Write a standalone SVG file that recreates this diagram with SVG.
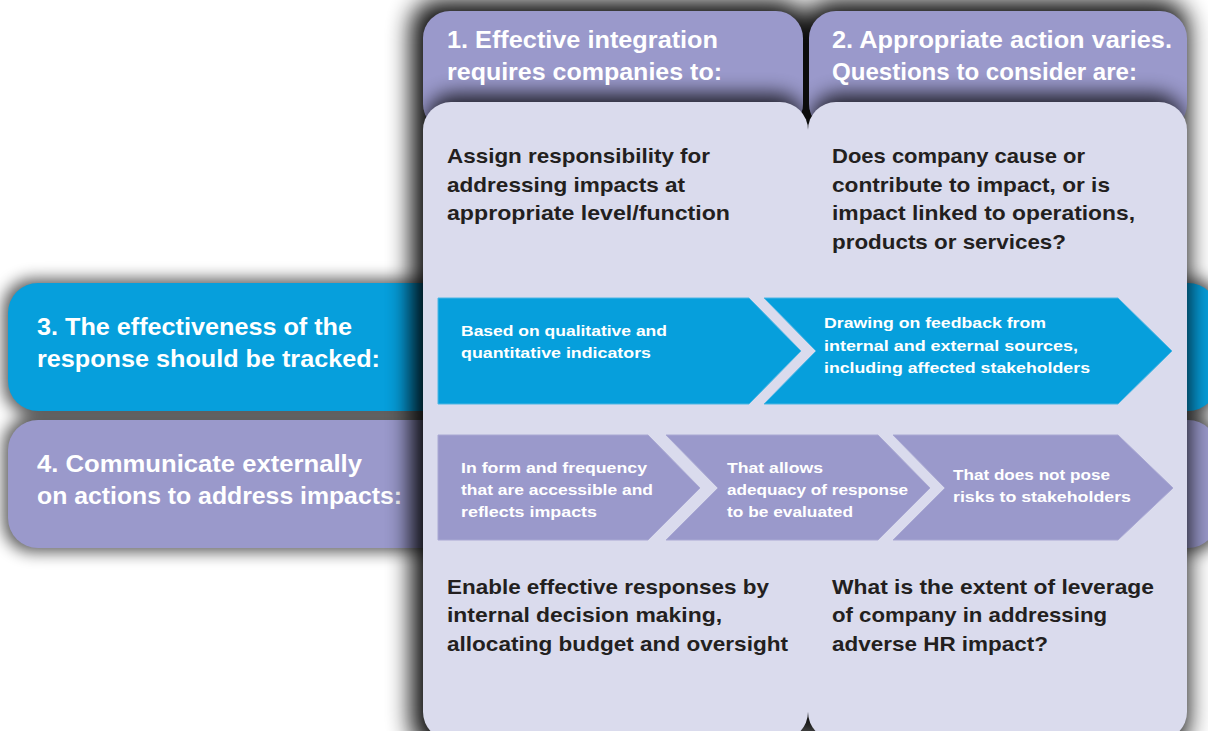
<svg xmlns="http://www.w3.org/2000/svg" width="1208" height="731" viewBox="0 0 1208 731">
<style>
.hd{font-family:"Liberation Sans",Arial,sans-serif;font-weight:bold;font-size:23px;fill:#ffffff}
.bd{font-family:"Liberation Sans",Arial,sans-serif;font-weight:bold;font-size:21px;fill:#231f20}
.ch{font-family:"Liberation Sans",Arial,sans-serif;font-weight:bold;font-size:15.5px;fill:#ffffff}
.purple{fill:#9a99cb}
.lav{fill:#dadbed}
.blue{fill:#069fdc}
.chb{fill:#069fdc;stroke:#4db6e4;stroke-width:1}
.chp{fill:#9a99cb;stroke:#a9a8d3;stroke-width:1}
</style>
<defs>
<filter id="blurBig" x="-30%" y="-30%" width="160%" height="160%"><feGaussianBlur stdDeviation="12"/></filter>
<filter id="blurMid" x="-30%" y="-30%" width="160%" height="160%"><feGaussianBlur stdDeviation="8"/></filter>
<filter id="blurHd" x="-30%" y="-30%" width="160%" height="160%"><feGaussianBlur stdDeviation="10"/></filter>
<clipPath id="clipH1"><rect x="423" y="11" width="380" height="120" rx="27"/></clipPath>
<clipPath id="clipH2"><rect x="809" y="11" width="378" height="120" rx="27"/></clipPath>
</defs>
<rect x="0" y="0" width="1208" height="731" fill="#ffffff"/>

<!-- band shadows -->
<g opacity="0.65" filter="url(#blurMid)">
<rect x="3" y="279" width="1220" height="136" rx="30" fill="#000"/>
<rect x="3" y="416" width="1220" height="136" rx="30" fill="#000"/>
</g>

<g id="band3">
<rect x="8" y="283" width="1210" height="128" rx="30" class="blue"/>
<text class="hd" x="37" y="335" textLength="315" lengthAdjust="spacingAndGlyphs">3. The effectiveness of the</text>
<text class="hd" x="37" y="367" textLength="343" lengthAdjust="spacingAndGlyphs">response should be tracked:</text>
</g>
<g id="band4">
<rect x="8" y="420" width="1210" height="128" rx="30" class="purple"/>
<text class="hd" x="37" y="472" textLength="325" lengthAdjust="spacingAndGlyphs">4. Communicate externally</text>
<text class="hd" x="37" y="504" textLength="365" lengthAdjust="spacingAndGlyphs">on actions to address impacts:</text>
</g>

<!-- column shadows -->
<g opacity="0.95" filter="url(#blurBig)">
<rect x="411" y="0" width="395" height="750" rx="28" fill="#000"/>
<rect x="804" y="0" width="384" height="750" rx="28" fill="#000"/>
</g>

<g id="col1">
<rect x="423" y="11" width="380" height="120" rx="27" class="purple"/>
<g clip-path="url(#clipH1)"><rect x="426" y="94" width="378" height="100" rx="28" fill="#000" opacity="0.8" filter="url(#blurHd)"/></g>
<rect x="423" y="102" width="385" height="638" rx="28" class="lav"/>
<text class="hd" x="447" y="48" textLength="271" lengthAdjust="spacingAndGlyphs">1. Effective integration</text>
<text class="hd" x="447" y="80" textLength="275" lengthAdjust="spacingAndGlyphs">requires companies to:</text>
<text class="bd" x="447" y="163" textLength="263" lengthAdjust="spacingAndGlyphs">Assign responsibility for</text>
<text class="bd" x="447" y="192" textLength="238" lengthAdjust="spacingAndGlyphs">addressing impacts at</text>
<text class="bd" x="447" y="220" textLength="283" lengthAdjust="spacingAndGlyphs">appropriate level/function</text>
<text class="bd" x="447" y="594" textLength="322" lengthAdjust="spacingAndGlyphs">Enable effective responses by</text>
<text class="bd" x="447" y="622" textLength="275" lengthAdjust="spacingAndGlyphs">internal decision making,</text>
<text class="bd" x="447" y="651" textLength="341" lengthAdjust="spacingAndGlyphs">allocating budget and oversight</text>
</g>

<g id="col2">
<rect x="809" y="11" width="378" height="120" rx="27" class="purple"/>
<g clip-path="url(#clipH2)"><rect x="811" y="94" width="372" height="100" rx="28" fill="#000" opacity="0.8" filter="url(#blurHd)"/></g>
<rect x="808" y="102" width="379" height="638" rx="28" class="lav"/>
<text class="hd" x="832" y="48" textLength="340" lengthAdjust="spacingAndGlyphs">2. Appropriate action varies.</text>
<text class="hd" x="832" y="80" textLength="305" lengthAdjust="spacingAndGlyphs">Questions to consider are:</text>
<text class="bd" x="832" y="163" textLength="253" lengthAdjust="spacingAndGlyphs">Does company cause or</text>
<text class="bd" x="832" y="192" textLength="278" lengthAdjust="spacingAndGlyphs">contribute to impact, or is</text>
<text class="bd" x="832" y="220" textLength="303" lengthAdjust="spacingAndGlyphs">impact linked to operations,</text>
<text class="bd" x="832" y="249" textLength="234" lengthAdjust="spacingAndGlyphs">products or services?</text>
<text class="bd" x="832" y="594" textLength="322" lengthAdjust="spacingAndGlyphs">What is the extent of leverage</text>
<text class="bd" x="832" y="622" textLength="275" lengthAdjust="spacingAndGlyphs">of company in addressing</text>
<text class="bd" x="832" y="651" textLength="216" lengthAdjust="spacingAndGlyphs">adverse HR impact?</text>
</g>

<g id="chev3a">
<polygon class="chb" points="438,298 749,298 801,351 749,404 438,404"/>
<text class="ch" x="461" y="336" textLength="206" lengthAdjust="spacingAndGlyphs">Based on qualitative and</text>
<text class="ch" x="461" y="358" textLength="190" lengthAdjust="spacingAndGlyphs">quantitative indicators</text>
</g>
<g id="chev3b">
<polygon class="chb" points="764,298 1118,298 1172,351 1118,404 764,404 816,351"/>
<text class="ch" x="824" y="328" textLength="222" lengthAdjust="spacingAndGlyphs">Drawing on feedback from</text>
<text class="ch" x="824" y="351" textLength="254" lengthAdjust="spacingAndGlyphs">internal and external sources,</text>
<text class="ch" x="824" y="373" textLength="266" lengthAdjust="spacingAndGlyphs">including affected stakeholders</text>
</g>
<g id="chev4a">
<polygon class="chp" points="438,435 648,435 700,488 648,540 438,540"/>
<text class="ch" x="461" y="473" textLength="186" lengthAdjust="spacingAndGlyphs">In form and frequency</text>
<text class="ch" x="461" y="495" textLength="192" lengthAdjust="spacingAndGlyphs">that are accessible and</text>
<text class="ch" x="461" y="517" textLength="136" lengthAdjust="spacingAndGlyphs">reflects impacts</text>
</g>
<g id="chev4b">
<polygon class="chp" points="666,435 878,435 930,488 878,540 666,540 718,488"/>
<text class="ch" x="727" y="473" textLength="96" lengthAdjust="spacingAndGlyphs">That allows</text>
<text class="ch" x="727" y="495" textLength="181" lengthAdjust="spacingAndGlyphs">adequacy of response</text>
<text class="ch" x="727" y="517" textLength="126" lengthAdjust="spacingAndGlyphs">to be evaluated</text>
</g>
<g id="chev4c">
<polygon class="chp" points="893,435 1118,435 1173,488 1118,540 893,540 945,488"/>
<text class="ch" x="953" y="480" textLength="157" lengthAdjust="spacingAndGlyphs">That does not pose</text>
<text class="ch" x="953" y="502" textLength="178" lengthAdjust="spacingAndGlyphs">risks to stakeholders</text>
</g>
<g id="connectors"></g>
</svg>
